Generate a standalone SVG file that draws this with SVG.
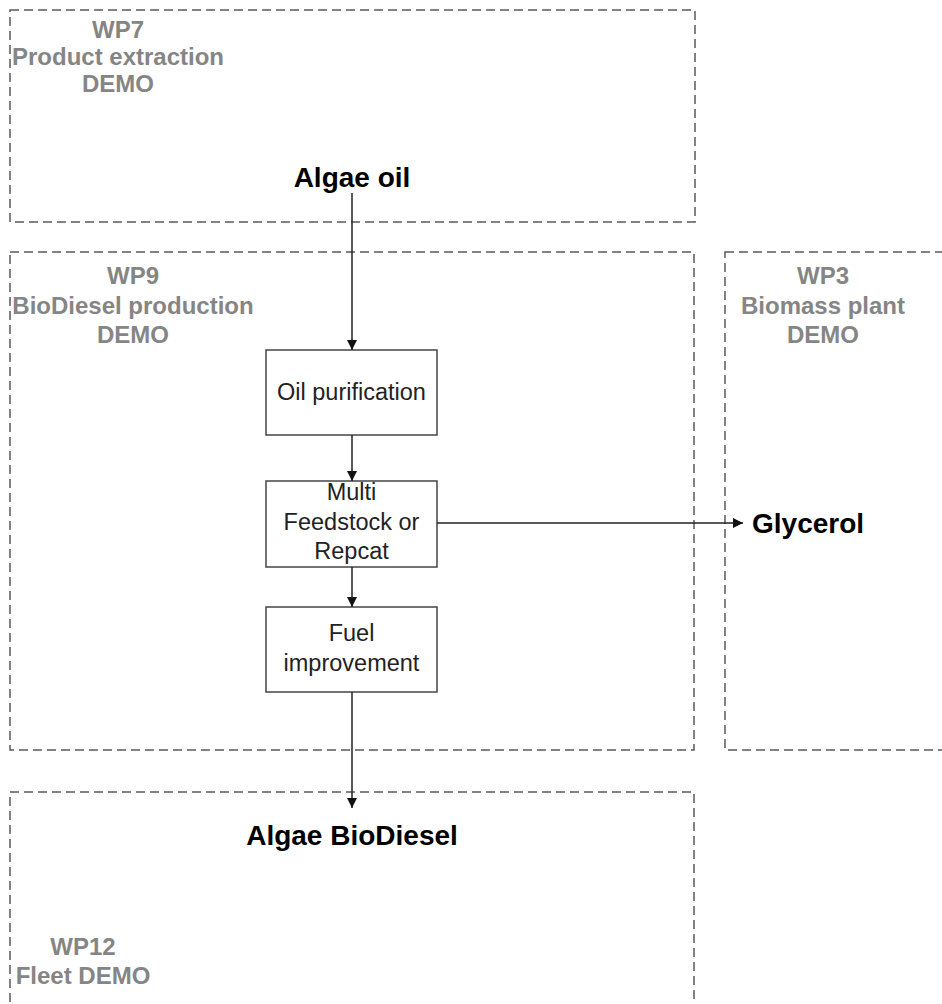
<svg xmlns="http://www.w3.org/2000/svg" width="942" height="1004" viewBox="0 0 942 1004">
<defs>
<style>
.zone{fill:none;stroke:#5a5a5a;stroke-width:1.5;stroke-dasharray:9 5}
.lbl{font-family:"Liberation Sans",Arial,sans-serif;font-weight:bold;font-size:24px;fill:#858585;text-anchor:middle}
.big{font-family:"Liberation Sans",Arial,sans-serif;font-weight:bold;font-size:28px;fill:#000;text-anchor:middle}
.box{fill:#fff;stroke:#444;stroke-width:1.5}
.bt{font-family:"Liberation Sans",Arial,sans-serif;font-size:23.5px;fill:#222;text-anchor:middle}
.conn{fill:none;stroke:#222;stroke-width:1.5}
</style>
<marker id="arr" viewBox="0 0 10 10" refX="10" refY="5" markerWidth="10" markerHeight="11" markerUnits="userSpaceOnUse" orient="auto">
<path d="M0,0 L10,5 L0,10 z" fill="#111"/>
</marker>
</defs>
<rect width="942" height="1004" fill="#fff"/>
<g id="wp7">
<rect class="zone" x="10" y="10" width="685" height="212"/>
<text class="lbl" x="118" y="38">WP7</text>
<text class="lbl" x="118" y="65">Product extraction</text>
<text class="lbl" x="118" y="92">DEMO</text>
</g>
<g id="algae-oil"><text class="big" x="352" y="187">Algae oil</text></g>
<g id="wp9">
<rect class="zone" x="10" y="252" width="684" height="498"/>
<text class="lbl" x="133" y="284">WP9</text>
<text class="lbl" x="133" y="314">BioDiesel production</text>
<text class="lbl" x="133" y="343">DEMO</text>
</g>
<g id="wp3">
<rect class="zone" x="725" y="252" width="240" height="498"/>
<text class="lbl" x="823" y="284">WP3</text>
<text class="lbl" x="823" y="314">Biomass plant</text>
<text class="lbl" x="823" y="343">DEMO</text>
</g>
<g id="wp12">
<rect class="zone" x="10" y="792" width="684" height="240"/>
<text class="lbl" x="83" y="955">WP12</text>
<text class="lbl" x="83" y="984">Fleet DEMO</text>
</g>
<g id="oil-purification">
<rect class="box" x="266" y="350" width="171" height="85"/>
<text class="bt" x="351.5" y="400">Oil purification</text>
</g>
<g id="multi-feedstock">
<rect class="box" x="266" y="481" width="171" height="86"/>
<text class="bt" x="351.5" y="500">Multi</text>
<text class="bt" x="351.5" y="530">Feedstock or</text>
<text class="bt" x="351.5" y="559">Repcat</text>
</g>
<g id="fuel-improvement">
<rect class="box" x="266" y="607" width="171" height="85"/>
<text class="bt" x="351.5" y="641">Fuel</text>
<text class="bt" x="351.5" y="671">improvement</text>
</g>
<g id="glycerol"><text class="big" x="752" y="533" text-anchor="start" style="text-anchor:start">Glycerol</text></g>
<g id="algae-biodiesel"><text class="big" x="352" y="845">Algae BioDiesel</text></g>
<g id="connectors">
<line class="conn" x1="352" y1="193" x2="352" y2="350" marker-end="url(#arr)"/>
<line class="conn" x1="352" y1="435" x2="352" y2="481" marker-end="url(#arr)"/>
<line class="conn" x1="352" y1="567" x2="352" y2="607" marker-end="url(#arr)"/>
<line class="conn" x1="352" y1="692" x2="352" y2="808" marker-end="url(#arr)"/>
<line class="conn" x1="437" y1="523" x2="743" y2="523" marker-end="url(#arr)"/>
</g>
</svg>
